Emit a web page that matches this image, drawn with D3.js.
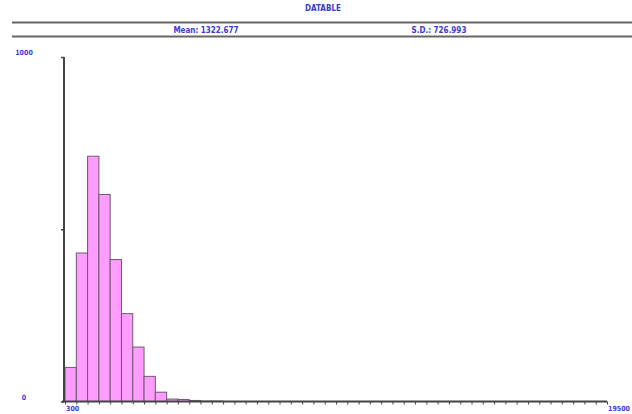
<!DOCTYPE html>
<html>
<head>
<meta charset="utf-8">
<script src="https://cdn.jsdelivr.net/npm/d3@7"></script>
<style>
  body { margin: 0; background: #fff; }
  text { font-family: "Liberation Sans Narrow", "DejaVu Sans Condensed", "Liberation Sans", sans-serif; font-weight: bold; fill: #3b3bd0; }
</style>
</head>
<body>
<div id="app"></div>
<script>
const title = "DATABLE";
const statLabels = ["Mean: 1322.677", "S.D.: 726.993"];
const binStart = 300;
const binWidth = 400;
const binEnd = 19500;
const counts = [99, 431, 712, 601, 412, 255, 158, 73, 27, 7, 6, 3, 1, 1];
const yTicks = [0, 500, 1000];
const yTickLabels = ["0", "", "1000"];
const xTickLabels = [300, 19500];

const width = 632, height = 414;

const svg = d3.select("#app")
    .append("svg")
    .attr("width", width)
    .attr("height", height);

// header
svg.append("text")
    .attr("x", 323).attr("y", 11)
    .attr("text-anchor", "middle")
    .attr("font-size", "8px")
    .text(title);

[22.5, 36.5].forEach(y => {
    svg.append("line")
        .attr("x1", 12).attr("x2", width)
        .attr("y1", y).attr("y2", y)
        .attr("stroke", "#666")
        .attr("stroke-width", 2);
});

const statX = [206, 439];
statLabels.forEach((s, i) => {
    svg.append("text")
        .attr("x", statX[i]).attr("y", 32.5)
        .attr("text-anchor", "middle")
        .attr("font-size", "8px")
        .text(s);
});

// scales
const x = d3.scaleLinear().domain([binStart, binEnd]).range([65, 607]);
const y = d3.scaleLinear().domain([0, 1000]).range([401.5, 57]);

// bars
svg.selectAll(".bar")
    .data(counts)
    .enter()
    .append("rect")
    .attr("x", (d, i) => x(binStart + i * binWidth))
    .attr("width", x(binStart + binWidth) - x(binStart))
    .attr("y", d => y(d))
    .attr("height", d => y(0) - y(d))
    .attr("fill", "#ff9cff")
    .attr("stroke", "#6a5a6a")
    .attr("stroke-width", 1);

// x axis
const xAxis = d3.axisBottom(x)
    .tickValues(d3.range(binStart, binEnd + 1, binWidth))
    .tickSize(3)
    .tickFormat("");
const gx = svg.append("g")
    .attr("transform", `translate(0,${y(0)})`)
    .call(xAxis);
gx.select(".domain").attr("stroke", "#444").attr("stroke-width", 2).attr("d", `M${x(binStart) - 3},0H${x(binEnd)}`);
gx.selectAll(".tick line").attr("stroke", "#444").attr("stroke-width", 1);

svg.selectAll(".xlab")
    .data(xTickLabels)
    .enter()
    .append("text")
    .attr("x", d => x(d) + 1)
    .attr("y", 411)
    .attr("font-size", "7px")
    .text(d => d);

// y axis
const yAxis = d3.axisLeft(y)
    .tickValues(yTicks)
    .tickSize(3)
    .tickFormat("");
const gy = svg.append("g")
    .attr("transform", `translate(${x(binStart) - 1},0)`)
    .call(yAxis);
gy.select(".domain").attr("stroke", "#444").attr("stroke-width", 2).attr("d", `M0,${y(1000)}V${y(0)}`);
gy.selectAll(".tick line").attr("stroke", "#444").attr("stroke-width", 1.5);

svg.selectAll(".ylab")
    .data(yTicks)
    .enter()
    .append("text")
    .attr("x", 24)
    .attr("y", d => y(d) - 2)
    .attr("text-anchor", "middle")
    .attr("font-size", "7px")
    .text((d, i) => yTickLabels[i]);
</script>
</body>
</html>
